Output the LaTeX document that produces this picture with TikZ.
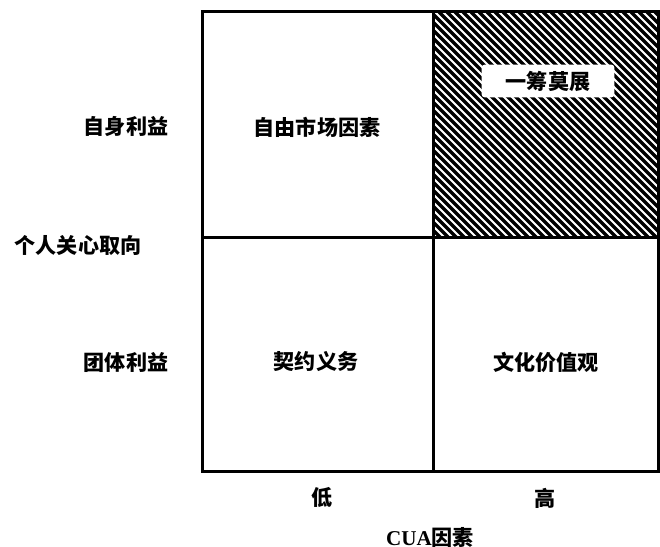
\documentclass[tikz,border=0pt]{standalone}
\usepackage{fontspec}
\newfontfamily\cjk{Noto Sans CJK SC}
\newfontfamily\latinserif{Liberation Serif}

\begin{document}
\begin{tikzpicture}[x=0.02cm, y=-0.02cm, line width=0.06cm]
	\tikzset{lbl/.style={font=\cjk\bfseries\fontsize{12}{14}\selectfont, inner sep=1pt}}
	\useasboundingbox (0,0) rectangle (660,547);

	% Hatched quadrant
	\begin{scope}
		\clip (433,12) rectangle (658,238);
		\foreach \a in {199,207,...,663} {
			\draw[line width=0.065cm] (\a,12) -- ++(240,240);
		}
	\end{scope}

	% Grid
	\coordinate (NW) at (202,12);
	\coordinate (SE) at (658,472);
	\draw (NW) rectangle (SE);
	\draw (433,12) -- (433,472);
	\draw (202,238) -- (658,238);

	% Quadrant labels
	\node[lbl] (market) at (317,127) {自由市场因素};
	\node[lbl, fill=white, rounded corners=2pt, minimum width=2.66cm, minimum height=0.66cm] (stuck) at (548,81) {一筹莫展};
	\node[lbl] (contract) at (316,362) {契约义务};
	\node[lbl] (culture) at (546,362) {文化价值观};

	% Axis labels
	\node[lbl] (self) at (126,127) {自身利益};
	\node[lbl] (orient) at (78,245) {个人关心取向};
	\node[lbl] (group) at (126,362) {团体利益};
	\node[lbl] (low) at (322,498) {低};
	\node[lbl] (high) at (545,498) {高};
	\node[lbl] (cua) at (430,537) {{\latinserif\bfseries CUA}因素};
\end{tikzpicture}
\end{document}
